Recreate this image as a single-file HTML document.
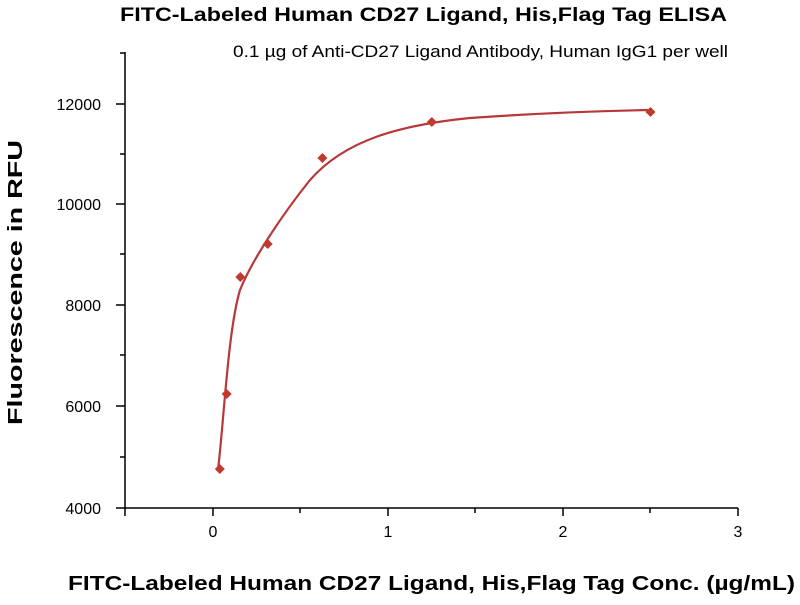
<!DOCTYPE html>
<html><head><meta charset="utf-8"><style>
body{margin:0;background:#fff}
svg text{font-family:"Liberation Sans",sans-serif}
</style></head><body>
<svg width="800" height="600" xmlns="http://www.w3.org/2000/svg">
<rect width="800" height="600" fill="#fff"/>
<text x="120" y="21" font-size="19" font-weight="bold" textLength="607" lengthAdjust="spacingAndGlyphs">FITC-Labeled Human CD27 Ligand, His,Flag Tag ELISA</text>
<text x="233" y="57" font-size="17" textLength="495" lengthAdjust="spacingAndGlyphs">0.1 µg of Anti-CD27 Ligand Antibody, Human IgG1 per well</text>
<g stroke="#000" stroke-width="1.5" fill="none">
<line x1="125" y1="52" x2="125" y2="508"/>
<line x1="125" y1="508" x2="738" y2="508"/>
<line x1="116" y1="508" x2="125" y2="508"/><line x1="116" y1="406" x2="125" y2="406"/><line x1="116" y1="305" x2="125" y2="305"/><line x1="116" y1="204" x2="125" y2="204"/><line x1="116" y1="104" x2="125" y2="104"/>
<line x1="120" y1="457" x2="125" y2="457"/><line x1="120" y1="355" x2="125" y2="355"/><line x1="120" y1="254" x2="125" y2="254"/><line x1="120" y1="154" x2="125" y2="154"/><line x1="120" y1="53" x2="125" y2="53"/>
<line x1="125" y1="508" x2="125" y2="516"/><line x1="213" y1="508" x2="213" y2="516"/><line x1="388" y1="508" x2="388" y2="516"/><line x1="563" y1="508" x2="563" y2="516"/><line x1="738" y1="508" x2="738" y2="516"/>
<line x1="300" y1="508" x2="300" y2="513"/><line x1="475" y1="508" x2="475" y2="513"/><line x1="650" y1="508" x2="650" y2="513"/>
</g>
<g font-size="16" text-anchor="end">
<text x="101" y="514">4000</text><text x="101" y="412">6000</text><text x="101" y="311">8000</text><text x="101" y="210">10000</text><text x="101" y="110">12000</text>
</g>
<g font-size="16" text-anchor="middle">
<text x="213" y="537">0</text><text x="388" y="537">1</text><text x="563" y="537">2</text><text x="738" y="537">3</text>
</g>
<text transform="translate(22,425) rotate(-90)" font-size="20" font-weight="bold" textLength="285" lengthAdjust="spacingAndGlyphs">Fluorescence in RFU</text>
<text x="68" y="590" font-size="20" font-weight="bold" textLength="727" lengthAdjust="spacingAndGlyphs">FITC-Labeled Human CD27 Ligand, His,Flag Tag Conc. (µg/mL)</text>
<path d="M218,470 C224,420 228,330 240,290 C252,260 282,215 310,180 C345,140 400,125 470,118 C540,113 600,111 650,110" stroke="#b8383a" stroke-width="2.2" fill="none"/>
<g fill="#c0392f">
<path d="M219.8,464 l5,5 l-5,5 l-5,-5z"/>
<path d="M226.7,389 l5,5 l-5,5 l-5,-5z"/>
<path d="M240.3,272 l5,5 l-5,5 l-5,-5z"/>
<path d="M267.7,239 l5,5 l-5,5 l-5,-5z"/>
<path d="M322.4,153 l5,5 l-5,5 l-5,-5z"/>
<path d="M431.8,117 l5,5 l-5,5 l-5,-5z"/>
<path d="M650.5,107 l5,5 l-5,5 l-5,-5z"/>
</g>
</svg>
</body></html>
